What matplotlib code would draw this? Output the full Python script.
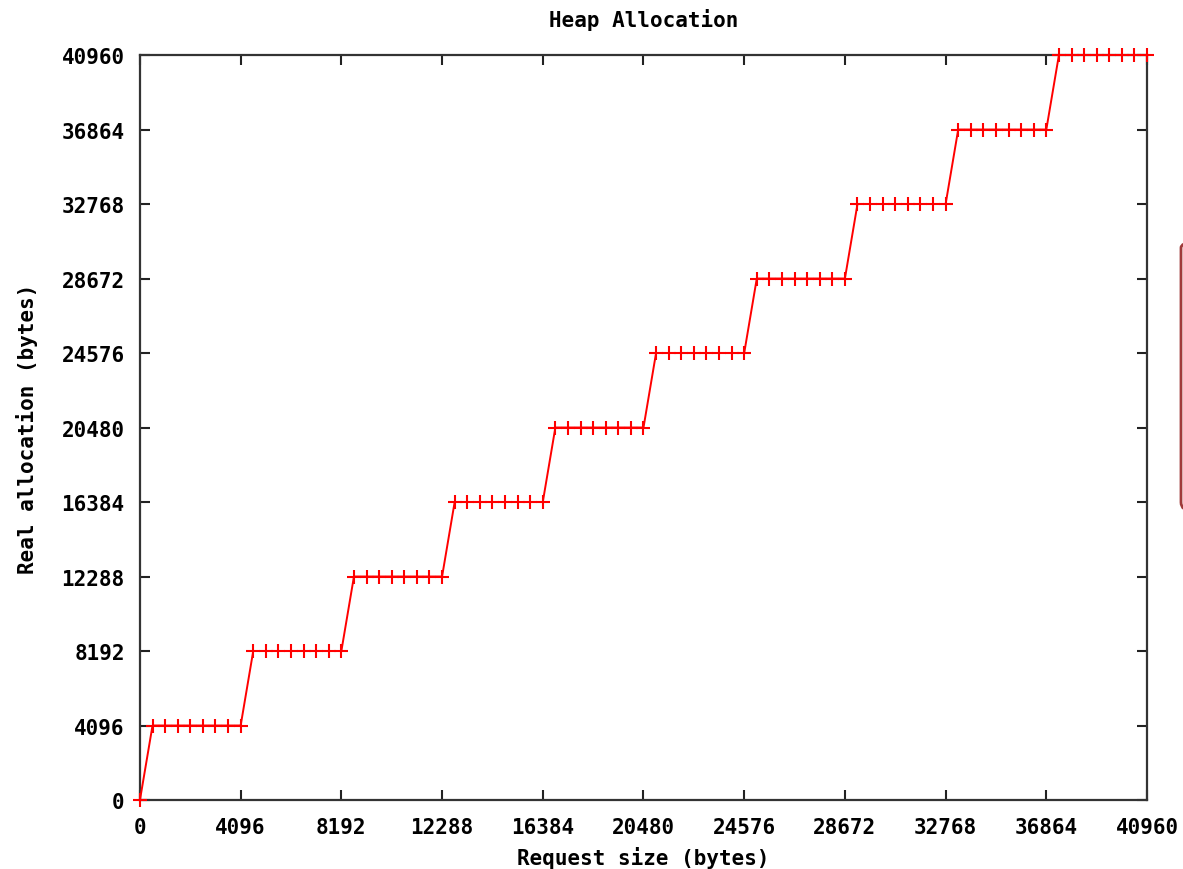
import matplotlib
matplotlib.use('Agg')
import matplotlib.pyplot as plt
from matplotlib.patches import FancyBboxPatch

# request sizes (bytes) sampled every 512 bytes
request_size = [
    0, 512, 1024, 1536, 2048, 2560, 3072, 3584, 4096,
    4608, 5120, 5632, 6144, 6656, 7168, 7680, 8192,
    8704, 9216, 9728, 10240, 10752, 11264, 11776, 12288,
    12800, 13312, 13824, 14336, 14848, 15360, 15872, 16384,
    16896, 17408, 17920, 18432, 18944, 19456, 19968, 20480,
    20992, 21504, 22016, 22528, 23040, 23552, 24064, 24576,
    25088, 25600, 26112, 26624, 27136, 27648, 28160, 28672,
    29184, 29696, 30208, 30720, 31232, 31744, 32256, 32768,
    33280, 33792, 34304, 34816, 35328, 35840, 36352, 36864,
    37376, 37888, 38400, 38912, 39424, 39936, 40448, 40960,
]
# real allocation (bytes)
real_alloc = [
    0, 4096, 4096, 4096, 4096, 4096, 4096, 4096, 4096,
    8192, 8192, 8192, 8192, 8192, 8192, 8192, 8192,
    12288, 12288, 12288, 12288, 12288, 12288, 12288, 12288,
    16384, 16384, 16384, 16384, 16384, 16384, 16384, 16384,
    20480, 20480, 20480, 20480, 20480, 20480, 20480, 20480,
    24576, 24576, 24576, 24576, 24576, 24576, 24576, 24576,
    28672, 28672, 28672, 28672, 28672, 28672, 28672, 28672,
    32768, 32768, 32768, 32768, 32768, 32768, 32768, 32768,
    36864, 36864, 36864, 36864, 36864, 36864, 36864, 36864,
    40960, 40960, 40960, 40960, 40960, 40960, 40960, 40960,
]
ticks = [0, 4096, 8192, 12288, 16384, 20480, 24576, 28672, 32768, 36864, 40960]

font = {'family': 'DejaVu Sans Mono', 'weight': 'bold'}
fs = 15

fig = plt.figure(figsize=(11.83, 8.70), dpi=100)
ax = fig.add_axes([0.1183, 0.0793, 0.8513, 0.8563])

ax.plot(request_size, real_alloc, color='#ff0000', linewidth=1.4,
        marker='+', markersize=10, markeredgewidth=1.5, clip_on=False, zorder=3)

ax.set_xlim(0, 40960)
ax.set_ylim(0, 40960)
ax.set_xticks(ticks)
ax.set_yticks(ticks)
ax.set_xticklabels([str(t) for t in ticks], fontsize=fs, **font)
ax.set_yticklabels([str(t) for t in ticks], fontsize=fs, **font)
ax.tick_params(direction='in', length=7, width=1.5, color='#222222',
               top=True, right=True)
ax.tick_params(axis='x', pad=12)
ax.tick_params(axis='y', pad=11)
for s in ax.spines.values():
    s.set_linewidth(1.6)
    s.set_color('#333333')

ax.set_title('Heap Allocation', fontsize=fs, pad=21, **font)
ax.set_xlabel('Request size (bytes)', fontsize=fs, labelpad=7, **font)
ax.set_ylabel('Real allocation (bytes)', fontsize=fs, labelpad=17, **font)

# partial rounded box at the right edge of the screenshot
box = FancyBboxPatch((1181 / 1183, 1 - 512 / 870), 0.05, 272 / 870,
                     boxstyle='round,pad=0,rounding_size=0.01',
                     transform=fig.transFigure, facecolor='none',
                     edgecolor='#a03a3a', linewidth=2.0, clip_on=False)
fig.patches.append(box)

fig.savefig('out.png', dpi=100)
